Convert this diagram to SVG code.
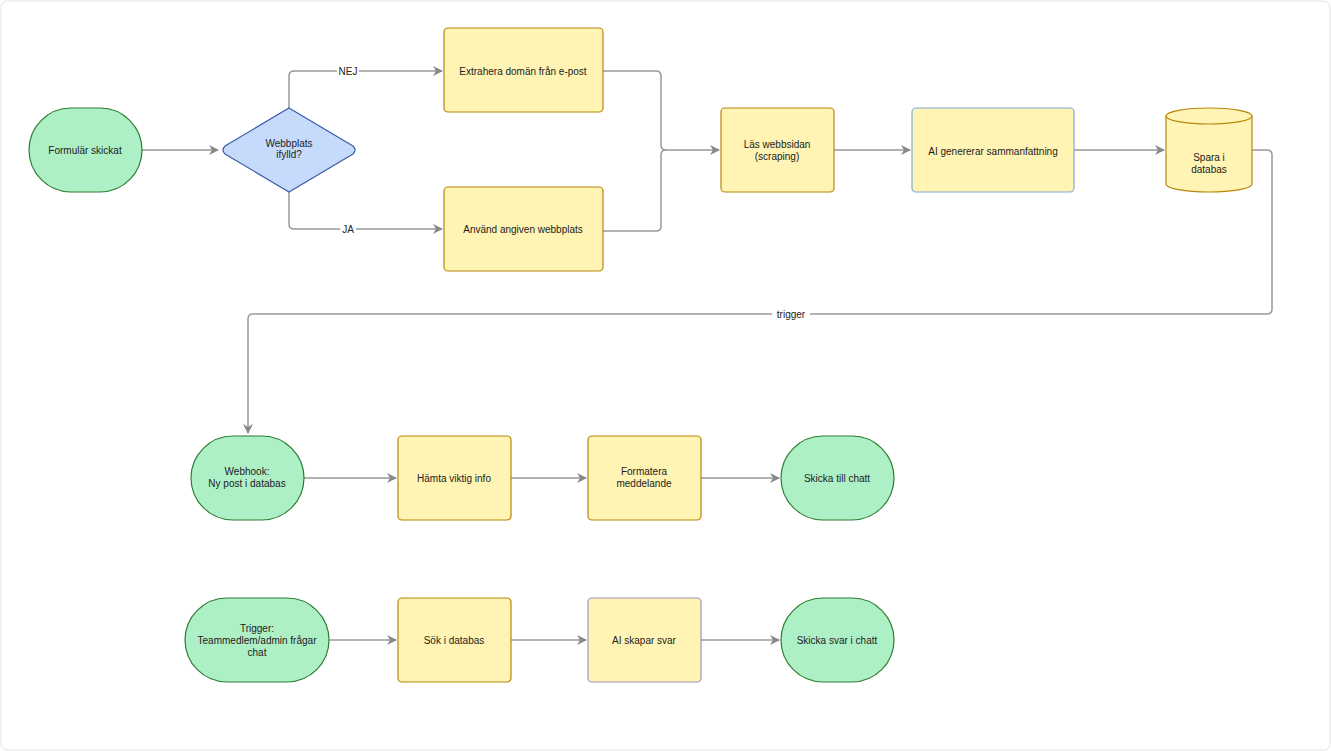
<svg xmlns="http://www.w3.org/2000/svg" width="1331" height="751" viewBox="0 0 1331 751">
<defs>
<marker id="ar" markerWidth="10" markerHeight="10" refX="9" refY="5" orient="auto" markerUnits="userSpaceOnUse"><path d="M0,0 L10,5 L0,10 L3,5 Z" fill="#888"/></marker>
<style>
text{font-family:"Liberation Sans",Arial,sans-serif;font-size:10px;fill:#222;text-anchor:middle}
.g{fill:#aef0c6;stroke:#2e7d32;stroke-width:1.2}
.y{fill:#fff4b3;stroke:#b8860b;stroke-width:1.2}
.c{fill:none;stroke:#999;stroke-width:1.5}
.l{fill:#fff}
</style>
</defs>
<rect x="1" y="1" width="1329" height="749" rx="6" fill="#fff" stroke="#e3e3e3"/>
<g id="connectors">
<path class="c" d="M142,150 H218" marker-end="url(#ar)"/>
<path class="c" d="M289,108 V76 Q289,71 294,71 H442" marker-end="url(#ar)"/>
<path class="c" d="M289,192 V224 Q289,229 294,229 H442" marker-end="url(#ar)"/>
<path class="c" d="M603,71 H656 Q661,71 661,76 V145 Q661,150 666,150 H719" marker-end="url(#ar)"/>
<path class="c" d="M603,231 H656 Q661,231 661,226 V155 Q661,150 666,150"/>
<path class="c" d="M834,150 H910" marker-end="url(#ar)"/>
<path class="c" d="M1074,150 H1164" marker-end="url(#ar)"/>
<path class="c" d="M1252,150 H1267 Q1272,150 1272,155 V309 Q1272,314 1267,314 H253 Q248,314 248,319 V433" marker-end="url(#ar)"/>
<path class="c" d="M304,478 H396" marker-end="url(#ar)"/>
<path class="c" d="M511,478 H586" marker-end="url(#ar)"/>
<path class="c" d="M701,478 H779" marker-end="url(#ar)"/>
<path class="c" d="M329,640 H396" marker-end="url(#ar)"/>
<path class="c" d="M511,640 H586" marker-end="url(#ar)"/>
<path class="c" d="M701,640 H779" marker-end="url(#ar)"/>
<rect class="l" x="337" y="64" width="22" height="14"/><text x="348" y="75">NEJ</text>
<rect class="l" x="340" y="222" width="16" height="14"/><text x="348" y="233">JA</text>
<rect class="l" x="772" y="307" width="38" height="14"/><text x="791" y="318">trigger</text>
</g>
<g id="start"><rect class="g" x="29" y="108" width="113" height="84" rx="42"/><text x="85" y="154">Formulär skickat</text></g>
<g id="decision"><path d="M289,108 L353,146 Q357,150 353,154 L289,192 L225,154 Q221,150 225,146 Z" fill="#c6dbfc" stroke="#3b5ea8" stroke-width="1.2"/><text x="289" y="147">Webbplats</text><text x="289" y="158">ifylld?</text></g>
<g id="extract"><rect class="y" x="444" y="28" width="159" height="84" rx="4"/><text x="523" y="75">Extrahera domän från e-post</text></g>
<g id="use"><rect class="y" x="444" y="187" width="159" height="84" rx="4"/><text x="523" y="233">Använd angiven webbplats</text></g>
<g id="scrape"><rect class="y" x="721" y="108" width="113" height="84" rx="4"/><text x="777" y="148">Läs webbsidan</text><text x="777" y="160">(scraping)</text></g>
<g id="summary"><rect x="912" y="108" width="162" height="84" rx="4" fill="#fff4b3" stroke="#7eabd8" stroke-width="1.2"/><text x="993" y="155">AI genererar sammanfattning</text></g>
<g id="db"><path d="M1166,116 V184 A43,8 0 0 0 1252,184 V116 A43,8 0 0 0 1166,116 Z" class="y"/><path d="M1166,116 A43,8 0 0 0 1252,116" fill="none" stroke="#b8860b" stroke-width="1.2"/><text x="1209" y="161">Spara i</text><text x="1209" y="173">databas</text></g>
<g id="webhook"><rect class="g" x="191" y="436" width="113" height="84" rx="42"/><text x="247" y="475">Webhook:</text><text x="247" y="487">Ny post i databas</text></g>
<g id="fetch"><rect class="y" x="398" y="436" width="113" height="84" rx="4"/><text x="454" y="482">Hämta viktig info</text></g>
<g id="format"><rect class="y" x="588" y="436" width="113" height="84" rx="4"/><text x="644" y="475">Formatera</text><text x="644" y="487">meddelande</text></g>
<g id="send"><rect class="g" x="781" y="436" width="113" height="84" rx="42"/><text x="837" y="482">Skicka till chatt</text></g>
<g id="trigger"><rect class="g" x="185" y="598" width="144" height="84" rx="42"/><text x="257" y="632">Trigger:</text><text x="257" y="644">Teammedlem/admin frågar</text><text x="257" y="656">chat</text></g>
<g id="search"><rect class="y" x="398" y="598" width="113" height="84" rx="4"/><text x="454" y="644">Sök i databas</text></g>
<g id="answer"><rect x="588" y="598" width="113" height="84" rx="4" fill="#fff4b3" stroke="#a58fc4" stroke-width="1.2"/><text x="644" y="644">AI skapar svar</text></g>
<g id="reply"><rect class="g" x="781" y="598" width="113" height="84" rx="42"/><text x="837" y="644">Skicka svar i chatt</text></g>
</svg>
